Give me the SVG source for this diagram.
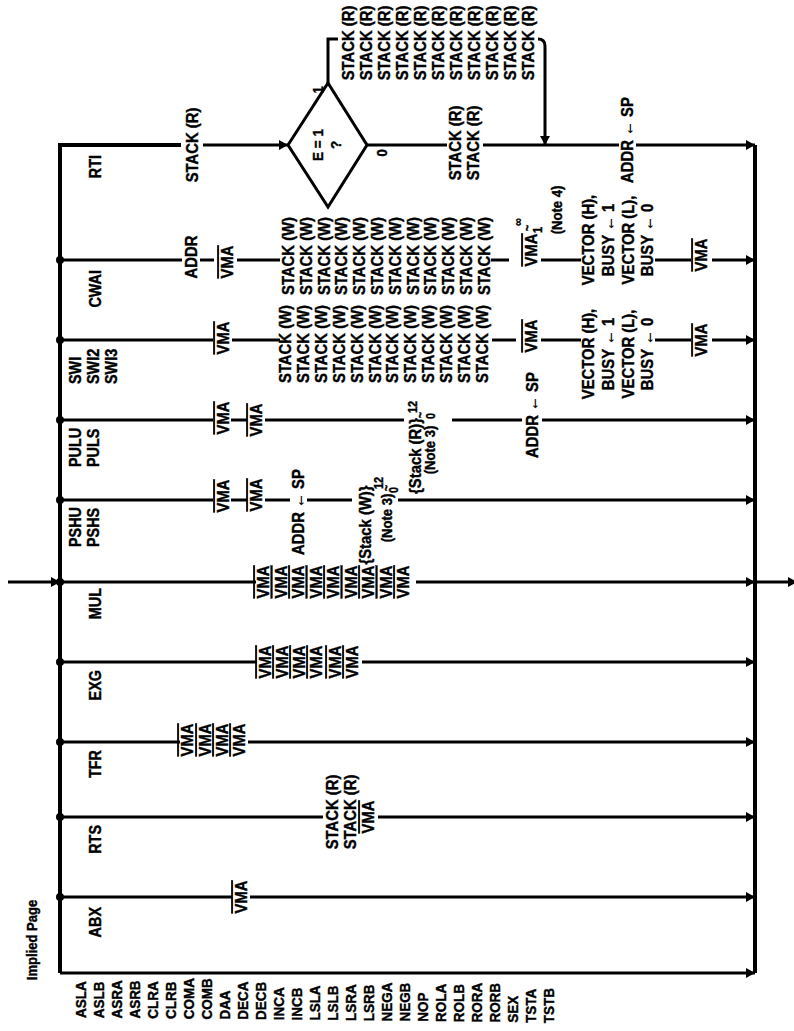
<svg xmlns="http://www.w3.org/2000/svg" width="794" height="1031" viewBox="0 0 794 1031">
<style>
text{font-family:"Liberation Sans",Arial,sans-serif;font-weight:bold;font-size:16.5px;fill:#000;stroke:#000;stroke-width:0.4px}
.m{text-anchor:middle}
.e{text-anchor:end}
.s{text-anchor:start}
.l{font-size:16px}
.b{font-size:15px}
.n{font-size:14.5px}
.sm{font-size:12px}
.v{text-decoration:overline}
.ln{stroke:#000;stroke-width:3;fill:none}
.bus{stroke:#000;stroke-width:4;fill:none}
.dot{fill:#000}
</style>
<defs>
<marker id="ah" viewBox="0 0 9 10" refX="9" refY="5" markerWidth="9" markerHeight="10" markerUnits="userSpaceOnUse" orient="auto"><path d="M0,0 L9,5 L0,10 z" fill="#000"/></marker>
</defs>
<rect width="794" height="1031" fill="#fff"/>

<g id="connectors">
<path class="bus" d="M181,145 H60 V973"/>
<path class="bus" d="M755,145 V973"/>
<path class="ln" d="M60,973 H755" marker-end="url(#ah)"/>
<path class="ln" d="M203,145 H288" marker-end="url(#ah)"/>
<polygon class="ln" points="288,145 328,83 367,145 328,207"/>
<path class="ln" d="M367,145 H447"/>
<path class="ln" d="M483,145 H619"/>
<path class="ln" d="M636,145 H755" marker-end="url(#ah)"/>
<path class="ln" d="M328,83 V39 H338"/>
<path class="ln" d="M538,39 Q545,39 545,46 V145" marker-end="url(#ah)"/>
<path class="ln" d="M60,260 H182"/>
<path class="ln" d="M200,260 H214"/>
<path class="ln" d="M237,260 H280"/>
<path class="ln" d="M491,260 H509"/>
<path class="ln" d="M541,260 H581"/>
<path class="ln" d="M655,260 H691"/>
<path class="ln" d="M712,260 H755" marker-end="url(#ah)"/>
<path class="ln" d="M60,340 H213"/>
<path class="ln" d="M232,340 H280"/>
<path class="ln" d="M492,340 H516"/>
<path class="ln" d="M541,340 H581"/>
<path class="ln" d="M655,340 H691"/>
<path class="ln" d="M712,340 H755" marker-end="url(#ah)"/>
<path class="ln" d="M60,420 H213"/>
<path class="ln" d="M231,420 H247"/>
<path class="ln" d="M265,420 H404"/>
<path class="ln" d="M452,420 H522"/>
<path class="ln" d="M542,420 H755" marker-end="url(#ah)"/>
<path class="ln" d="M60,500 H213"/>
<path class="ln" d="M231,500 H247"/>
<path class="ln" d="M265,500 H290"/>
<path class="ln" d="M307,500 H352"/>
<path class="ln" d="M398,500 H755" marker-end="url(#ah)"/>
<path class="ln" d="M8,582 H60" marker-end="url(#ah)"/>
<path class="ln" d="M60,582 H256"/>
<path class="ln" d="M416,582 H755" marker-end="url(#ah)"/>
<path class="ln" d="M755,582 H797" marker-end="url(#ah)"/>
<path class="ln" d="M60,662 H257"/>
<path class="ln" d="M362,662 H755" marker-end="url(#ah)"/>
<path class="ln" d="M60,742 H180"/>
<path class="ln" d="M248,742 H755" marker-end="url(#ah)"/>
<path class="ln" d="M60,817 H323"/>
<path class="ln" d="M378,817 H755" marker-end="url(#ah)"/>
<path class="ln" d="M60,897 H232"/>
<path class="ln" d="M250,897 H755" marker-end="url(#ah)"/>
<circle class="dot" cx="60" cy="260" r="4"/>
<circle class="dot" cx="60" cy="340" r="4"/>
<circle class="dot" cx="60" cy="420" r="4"/>
<circle class="dot" cx="60" cy="500" r="4"/>
<circle class="dot" cx="60" cy="582" r="4"/>
<circle class="dot" cx="60" cy="662" r="4"/>
<circle class="dot" cx="60" cy="742" r="4"/>
<circle class="dot" cx="60" cy="817" r="4"/>
<circle class="dot" cx="60" cy="897" r="4"/>
</g>

<g id="row-rti">
<text class="e l" transform="translate(100.5,155) rotate(-90) scale(0.9,1)">RTI</text>
<text class="m" transform="translate(198,145) rotate(-90) scale(0.9,1)">STACK (R)</text>
<text class="m" transform="translate(354,43) rotate(-90) scale(0.9,1)">STACK (R)</text>
<text class="m" transform="translate(372,43) rotate(-90) scale(0.9,1)">STACK (R)</text>
<text class="m" transform="translate(390,43) rotate(-90) scale(0.9,1)">STACK (R)</text>
<text class="m" transform="translate(408,43) rotate(-90) scale(0.9,1)">STACK (R)</text>
<text class="m" transform="translate(426,43) rotate(-90) scale(0.9,1)">STACK (R)</text>
<text class="m" transform="translate(444,43) rotate(-90) scale(0.9,1)">STACK (R)</text>
<text class="m" transform="translate(462,43) rotate(-90) scale(0.9,1)">STACK (R)</text>
<text class="m" transform="translate(480,43) rotate(-90) scale(0.9,1)">STACK (R)</text>
<text class="m" transform="translate(498,43) rotate(-90) scale(0.9,1)">STACK (R)</text>
<text class="m" transform="translate(516,43) rotate(-90) scale(0.9,1)">STACK (R)</text>
<text class="m" transform="translate(534,43) rotate(-90) scale(0.9,1)">STACK (R)</text>
<text class="m" transform="translate(461,143) rotate(-90) scale(0.9,1)">STACK (R)</text>
<text class="m" transform="translate(479,143) rotate(-90) scale(0.9,1)">STACK (R)</text>
<text class="m" transform="translate(633,140) rotate(-90) scale(0.9,1)">ADDR ← SP</text>
</g>

<g id="decision-e">
<text class="m b" transform="translate(322.5,145) rotate(-90) scale(0.9,1)">E = 1</text>
<text class="m b" transform="translate(340.5,145) rotate(-90) scale(0.9,1)">?</text>
<text class="m n" transform="translate(322.5,90) rotate(-90) scale(0.9,1)">1</text>
<text class="m n" transform="translate(386.5,153) rotate(-90) scale(0.9,1)">0</text>
</g>

<g id="row-cwai">
<text class="e l" transform="translate(100.5,270) rotate(-90) scale(0.9,1)">CWAI</text>
<text class="m" transform="translate(197,257) rotate(-90) scale(0.9,1)">ADDR</text>
<text class="m v" transform="translate(233,262) rotate(-90) scale(0.9,1)">VMA</text>
<text class="m" transform="translate(294,256) rotate(-90) scale(0.9,1)">STACK (W)</text>
<text class="m" transform="translate(311.8,256) rotate(-90) scale(0.9,1)">STACK (W)</text>
<text class="m" transform="translate(329.6,256) rotate(-90) scale(0.9,1)">STACK (W)</text>
<text class="m" transform="translate(347.4,256) rotate(-90) scale(0.9,1)">STACK (W)</text>
<text class="m" transform="translate(365.2,256) rotate(-90) scale(0.9,1)">STACK (W)</text>
<text class="m" transform="translate(383,256) rotate(-90) scale(0.9,1)">STACK (W)</text>
<text class="m" transform="translate(400.8,256) rotate(-90) scale(0.9,1)">STACK (W)</text>
<text class="m" transform="translate(418.6,256) rotate(-90) scale(0.9,1)">STACK (W)</text>
<text class="m" transform="translate(436.4,256) rotate(-90) scale(0.9,1)">STACK (W)</text>
<text class="m" transform="translate(454.2,256) rotate(-90) scale(0.9,1)">STACK (W)</text>
<text class="m" transform="translate(472,256) rotate(-90) scale(0.9,1)">STACK (W)</text>
<text class="m" transform="translate(489.8,256) rotate(-90) scale(0.9,1)">STACK (W)</text>
<text class="m v" transform="translate(537,250) rotate(-90) scale(0.9,1)">VMA</text>
<text class="m sm" transform="translate(521.5,222) rotate(-90) scale(0.9,1)">∞</text>
<text class="m sm" transform="translate(531.5,228) rotate(-90) scale(0.9,1)">~</text>
<text class="m sm" transform="translate(541.5,230) rotate(-90) scale(0.9,1)">1</text>
<text class="m n" transform="translate(562.2,210) rotate(-90) scale(0.9,1)">(Note 4)</text>
<text class="m" transform="translate(594,240) rotate(-90) scale(0.9,1)">VECTOR (H),</text>
<text class="m" transform="translate(614,240) rotate(-90) scale(0.9,1)">BUSY ← 1</text>
<text class="m" transform="translate(634,240) rotate(-90) scale(0.9,1)">VECTOR (L),</text>
<text class="m" transform="translate(653,240) rotate(-90) scale(0.9,1)">BUSY ← 0</text>
<text class="m v" transform="translate(707,255) rotate(-90) scale(0.9,1)">VMA</text>
</g>

<g id="row-swi">
<text class="s l" transform="translate(80.7,384) rotate(-90) scale(0.9,1)">SWI</text>
<text class="s l" transform="translate(98.7,384) rotate(-90) scale(0.9,1)">SWI2</text>
<text class="s l" transform="translate(116.7,384) rotate(-90) scale(0.9,1)">SWI3</text>
<text class="m v" transform="translate(229,338) rotate(-90) scale(0.9,1)">VMA</text>
<text class="m" transform="translate(291,344) rotate(-90) scale(0.9,1)">STACK (W)</text>
<text class="m" transform="translate(308.9,344) rotate(-90) scale(0.9,1)">STACK (W)</text>
<text class="m" transform="translate(326.8,344) rotate(-90) scale(0.9,1)">STACK (W)</text>
<text class="m" transform="translate(344.7,344) rotate(-90) scale(0.9,1)">STACK (W)</text>
<text class="m" transform="translate(362.6,344) rotate(-90) scale(0.9,1)">STACK (W)</text>
<text class="m" transform="translate(380.5,344) rotate(-90) scale(0.9,1)">STACK (W)</text>
<text class="m" transform="translate(398.4,344) rotate(-90) scale(0.9,1)">STACK (W)</text>
<text class="m" transform="translate(416.3,344) rotate(-90) scale(0.9,1)">STACK (W)</text>
<text class="m" transform="translate(434.2,344) rotate(-90) scale(0.9,1)">STACK (W)</text>
<text class="m" transform="translate(452.1,344) rotate(-90) scale(0.9,1)">STACK (W)</text>
<text class="m" transform="translate(470,344) rotate(-90) scale(0.9,1)">STACK (W)</text>
<text class="m" transform="translate(487.9,344) rotate(-90) scale(0.9,1)">STACK (W)</text>
<text class="m v" transform="translate(537,336) rotate(-90) scale(0.9,1)">VMA</text>
<text class="m" transform="translate(594,354) rotate(-90) scale(0.9,1)">VECTOR (H),</text>
<text class="m" transform="translate(614,354) rotate(-90) scale(0.9,1)">BUSY ← 1</text>
<text class="m" transform="translate(634,354) rotate(-90) scale(0.9,1)">VECTOR (L),</text>
<text class="m" transform="translate(653,354) rotate(-90) scale(0.9,1)">BUSY ← 0</text>
<text class="m v" transform="translate(707,340) rotate(-90) scale(0.9,1)">VMA</text>
</g>

<g id="row-pulu">
<text class="s l" transform="translate(80.7,467) rotate(-90) scale(0.9,1)">PULU</text>
<text class="s l" transform="translate(98.7,467) rotate(-90) scale(0.9,1)">PULS</text>
<text class="m v" transform="translate(229,418) rotate(-90) scale(0.9,1)">VMA</text>
<text class="m v" transform="translate(262,420) rotate(-90) scale(0.9,1)">VMA</text>
<text class="m" transform="translate(421,456) rotate(-90) scale(0.9,1)">{Stack (R)}</text>
<text class="m n" transform="translate(434.7,450) rotate(-90) scale(0.9,1)">(Note 3)</text>
<text class="m sm" transform="translate(416.5,407) rotate(-90) scale(0.9,1)">12</text>
<text class="m sm" transform="translate(424.5,415) rotate(-90) scale(0.9,1)">~</text>
<text class="m sm" transform="translate(434.5,416) rotate(-90) scale(0.9,1)">0</text>
<text class="m" transform="translate(538,415) rotate(-90) scale(0.9,1)">ADDR ← SP</text>
</g>

<g id="row-pshu">
<text class="s l" transform="translate(80.7,547) rotate(-90) scale(0.9,1)">PSHU</text>
<text class="s l" transform="translate(98.7,547) rotate(-90) scale(0.9,1)">PSHS</text>
<text class="m v" transform="translate(229,496) rotate(-90) scale(0.9,1)">VMA</text>
<text class="m v" transform="translate(262,495) rotate(-90) scale(0.9,1)">VMA</text>
<text class="m" transform="translate(304,512) rotate(-90) scale(0.9,1)">ADDR ← SP</text>
<text class="m" transform="translate(371,525) rotate(-90) scale(0.9,1)">{Stack (W)}</text>
<text class="m n" transform="translate(392.2,518) rotate(-90) scale(0.9,1)">(Note 3)</text>
<text class="m sm" transform="translate(382.5,483) rotate(-90) scale(0.9,1)">12</text>
<text class="m sm" transform="translate(390.5,488) rotate(-90) scale(0.9,1)">~</text>
<text class="m sm" transform="translate(397.5,490) rotate(-90) scale(0.9,1)">0</text>
</g>

<g id="row-mul">
<text class="e l" transform="translate(100.5,588) rotate(-90) scale(0.9,1)">MUL</text>
<text class="m v" transform="translate(269,582) rotate(-90) scale(0.9,1)">VMA</text>
<text class="m v" transform="translate(286.5,582) rotate(-90) scale(0.9,1)">VMA</text>
<text class="m v" transform="translate(304,582) rotate(-90) scale(0.9,1)">VMA</text>
<text class="m v" transform="translate(321.5,582) rotate(-90) scale(0.9,1)">VMA</text>
<text class="m v" transform="translate(339,582) rotate(-90) scale(0.9,1)">VMA</text>
<text class="m v" transform="translate(356.5,582) rotate(-90) scale(0.9,1)">VMA</text>
<text class="m v" transform="translate(374,582) rotate(-90) scale(0.9,1)">VMA</text>
<text class="m v" transform="translate(391.5,582) rotate(-90) scale(0.9,1)">VMA</text>
<text class="m v" transform="translate(409,582) rotate(-90) scale(0.9,1)">VMA</text>
</g>

<g id="row-exg">
<text class="e l" transform="translate(100.5,670) rotate(-90) scale(0.9,1)">EXG</text>
<text class="m v" transform="translate(271,662) rotate(-90) scale(0.9,1)">VMA</text>
<text class="m v" transform="translate(288,662) rotate(-90) scale(0.9,1)">VMA</text>
<text class="m v" transform="translate(305,662) rotate(-90) scale(0.9,1)">VMA</text>
<text class="m v" transform="translate(322,662) rotate(-90) scale(0.9,1)">VMA</text>
<text class="m v" transform="translate(341,662) rotate(-90) scale(0.9,1)">VMA</text>
<text class="m v" transform="translate(358,662) rotate(-90) scale(0.9,1)">VMA</text>
</g>

<g id="row-tfr">
<text class="e l" transform="translate(100.5,750) rotate(-90) scale(0.9,1)">TFR</text>
<text class="m v" transform="translate(193,740) rotate(-90) scale(0.9,1)">VMA</text>
<text class="m v" transform="translate(211,740) rotate(-90) scale(0.9,1)">VMA</text>
<text class="m v" transform="translate(228,740) rotate(-90) scale(0.9,1)">VMA</text>
<text class="m v" transform="translate(245,740) rotate(-90) scale(0.9,1)">VMA</text>
</g>

<g id="row-rts">
<text class="e l" transform="translate(100.5,825) rotate(-90) scale(0.9,1)">RTS</text>
<text class="m" transform="translate(338,812) rotate(-90) scale(0.9,1)">STACK (R)</text>
<text class="m" transform="translate(356,812) rotate(-90) scale(0.9,1)">STACK (R)</text>
<text class="m v" transform="translate(374,817) rotate(-90) scale(0.9,1)">VMA</text>
</g>

<g id="row-abx">
<text class="e l" transform="translate(100.5,907) rotate(-90) scale(0.9,1)">ABX</text>
<text class="m v" transform="translate(247,897) rotate(-90) scale(0.9,1)">VMA</text>
</g>

<g id="row-implied">
<text class="m n" transform="translate(37.2,940) rotate(-90) scale(0.9,1)">Implied Page</text>
<text class="s b" transform="translate(86.4,1018) rotate(-90) scale(0.9,1)">ASLA</text>
<text class="s b" transform="translate(104.4,1018.2) rotate(-90) scale(0.9,1)">ASLB</text>
<text class="s b" transform="translate(122.4,1018.4) rotate(-90) scale(0.9,1)">ASRA</text>
<text class="s b" transform="translate(140.4,1018.6) rotate(-90) scale(0.9,1)">ASRB</text>
<text class="s b" transform="translate(158.4,1018.8) rotate(-90) scale(0.9,1)">CLRA</text>
<text class="s b" transform="translate(176.4,1019) rotate(-90) scale(0.9,1)">CLRB</text>
<text class="s b" transform="translate(194.4,1019.2) rotate(-90) scale(0.9,1)">COMA</text>
<text class="s b" transform="translate(212.4,1019.4) rotate(-90) scale(0.9,1)">COMB</text>
<text class="s b" transform="translate(230.4,1019.6) rotate(-90) scale(0.9,1)">DAA</text>
<text class="s b" transform="translate(248.4,1019.8) rotate(-90) scale(0.9,1)">DECA</text>
<text class="s b" transform="translate(266.4,1020) rotate(-90) scale(0.9,1)">DECB</text>
<text class="s b" transform="translate(284.4,1020.2) rotate(-90) scale(0.9,1)">INCA</text>
<text class="s b" transform="translate(302.4,1020.4) rotate(-90) scale(0.9,1)">INCB</text>
<text class="s b" transform="translate(320.4,1020.6) rotate(-90) scale(0.9,1)">LSLA</text>
<text class="s b" transform="translate(338.4,1020.8) rotate(-90) scale(0.9,1)">LSLB</text>
<text class="s b" transform="translate(356.4,1021) rotate(-90) scale(0.9,1)">LSRA</text>
<text class="s b" transform="translate(374.4,1021.2) rotate(-90) scale(0.9,1)">LSRB</text>
<text class="s b" transform="translate(392.4,1021.4) rotate(-90) scale(0.9,1)">NEGA</text>
<text class="s b" transform="translate(410.4,1021.6) rotate(-90) scale(0.9,1)">NEGB</text>
<text class="s b" transform="translate(428.4,1021.8) rotate(-90) scale(0.9,1)">NOP</text>
<text class="s b" transform="translate(446.4,1022) rotate(-90) scale(0.9,1)">ROLA</text>
<text class="s b" transform="translate(464.4,1022.2) rotate(-90) scale(0.9,1)">ROLB</text>
<text class="s b" transform="translate(482.4,1022.4) rotate(-90) scale(0.9,1)">RORA</text>
<text class="s b" transform="translate(500.4,1022.6) rotate(-90) scale(0.9,1)">RORB</text>
<text class="s b" transform="translate(518.4,1022.8) rotate(-90) scale(0.9,1)">SEX</text>
<text class="s b" transform="translate(536.4,1023) rotate(-90) scale(0.9,1)">TSTA</text>
<text class="s b" transform="translate(554.4,1023.2) rotate(-90) scale(0.9,1)">TSTB</text>
</g>
</svg>
